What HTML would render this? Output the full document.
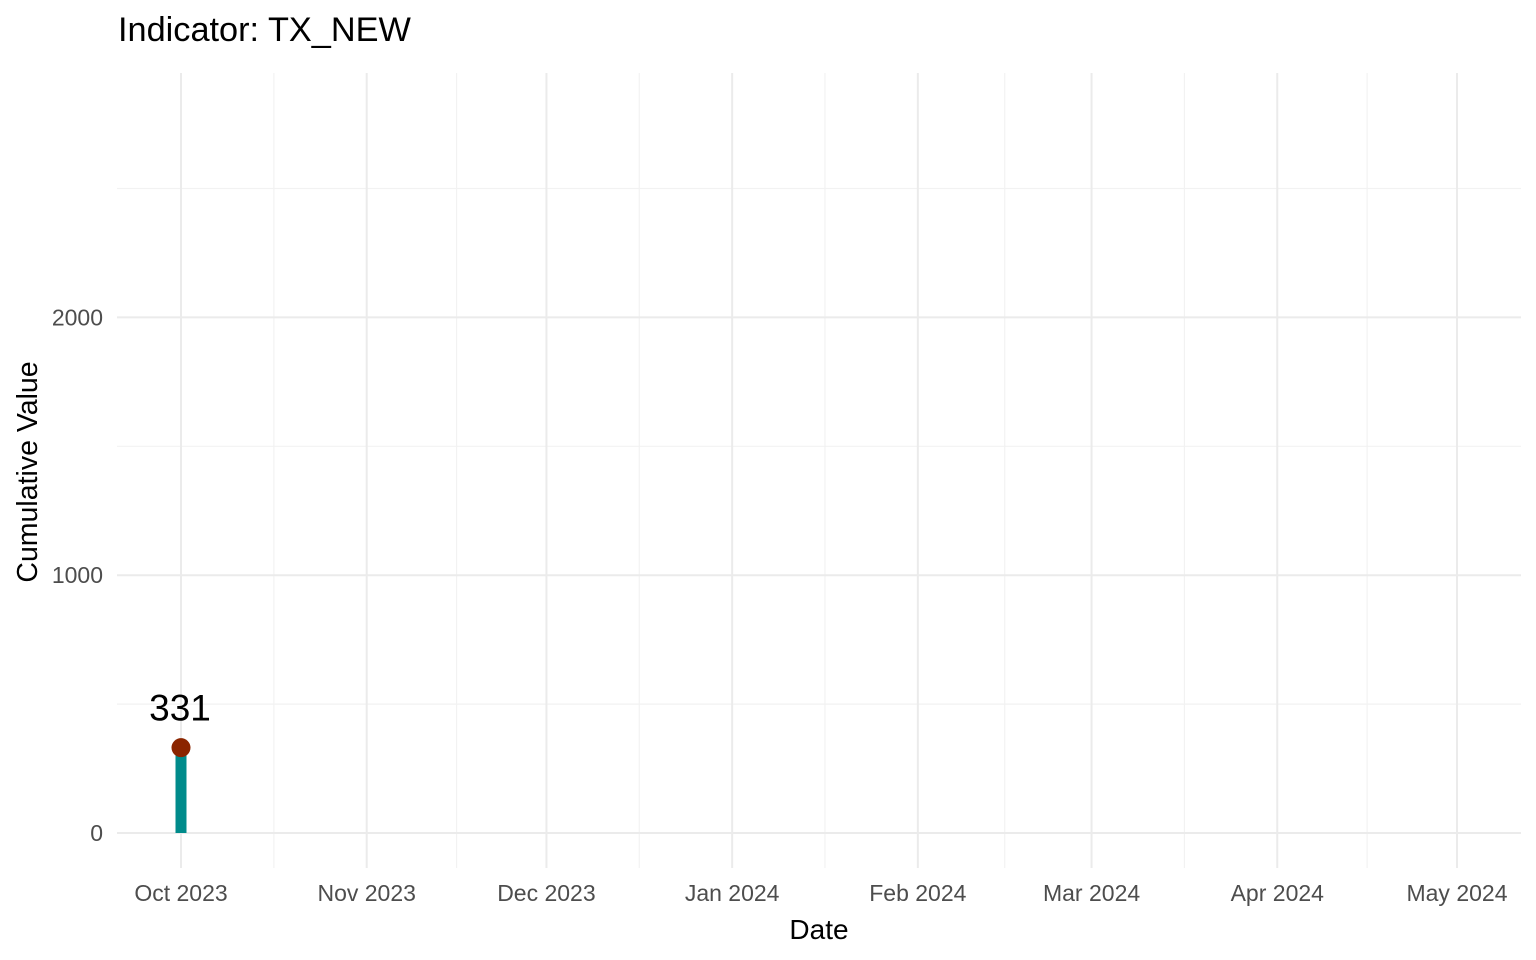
<!DOCTYPE html>
<html><head><meta charset="utf-8"><style>
html,body{margin:0;padding:0;background:#fff;}
svg{display:block;font-family:"Liberation Sans",Arial,sans-serif;}
</style></head><body>
<svg id="chart" width="1536" height="960"></svg>
<script>
const dates = ["2023-10-01"];
const values = [331];
const yTicks = [0, 1000, 2000];
const yMinor = [500, 1500, 2500];
const xTickDates = ["2023-10-01","2023-11-01","2023-12-01","2024-01-01","2024-02-01","2024-03-01","2024-04-01","2024-05-01"];
const xTickLabels = ["Oct 2023","Nov 2023","Dec 2023","Jan 2024","Feb 2024","Mar 2024","Apr 2024","May 2024"];

const NS = "http://www.w3.org/2000/svg";
const svg = document.getElementById("chart");
const L = 117, R = 1521, T = 73, B = 868;
const t0 = Date.UTC(2023,9,1), t1 = Date.UTC(2024,4,1);
function xs(d){ const t = Date.parse(d+"T00:00:00Z"); return 181 + (t - t0)/(t1 - t0)*(1457-181); }
function ys(v){ return 833 - v*0.2578; }
function el(tag, attrs, parent){ const e=document.createElementNS(NS,tag); for(const k in attrs) e.setAttribute(k,attrs[k]); (parent||svg).appendChild(e); return e; }

const grid = el("g",{});


yMinor.forEach(v=>{ const l=el("line",{x1:L,x2:R,y1:ys(v),y2:ys(v),stroke:"#f2f2f2","stroke-width":1.2},grid);
   });
for(let i=0;i<xTickDates.length-1;i++){ const m=(xs(xTickDates[i])+xs(xTickDates[i+1]))/2;
 const l=el("line",{x1:m,x2:m,y1:T,y2:B,stroke:"#f2f2f2","stroke-width":1.2},grid);
   }
yTicks.forEach(v=>{ const l=el("line",{x1:L,x2:R,y1:ys(v),y2:ys(v),stroke:"#ebebeb","stroke-width":2},grid);
  
 const t=el("text",{x:103,y:ys(v)+8,"text-anchor":"end","font-size":23,fill:"#4d4d4d"}); t.textContent=v;
   });
xTickDates.forEach((d,i)=>{ const x=xs(d);
 const l=el("line",{x1:x,x2:x,y1:T,y2:B,stroke:"#ebebeb","stroke-width":2},grid);
  
 const t=el("text",{x:x,y:901,"text-anchor":"middle","font-size":23,fill:"#4d4d4d"}); t.textContent=xTickLabels[i];
   });

dates.forEach((d,i)=>{ const x=xs(d), y=ys(values[i]);
 const b=el("rect",{x:x-5.5,y:y,width:11,height:ys(0)-y,fill:"#008b8b"});
  
 const c=el("circle",{cx:x,cy:y,r:9.5,fill:"#8b2500"});
  
 const t=el("text",{x:x-1,y:y-27,"text-anchor":"middle","font-size":37,fill:"#000"}); t.textContent=values[i];
   });

const title=el("text",{x:118,y:41,"font-size":34.3,fill:"#000"}); title.textContent="Indicator: TX_NEW";
 
const xt=el("text",{x:819,y:939,"text-anchor":"middle","font-size":28,fill:"#000"}); xt.textContent="Date";
 
const yt=el("text",{x:0,y:0,"text-anchor":"middle","font-size":28.5,fill:"#000",transform:"translate(37,472) rotate(-90)"}); yt.textContent="Cumulative Value";
 
</script>
</body></html>
